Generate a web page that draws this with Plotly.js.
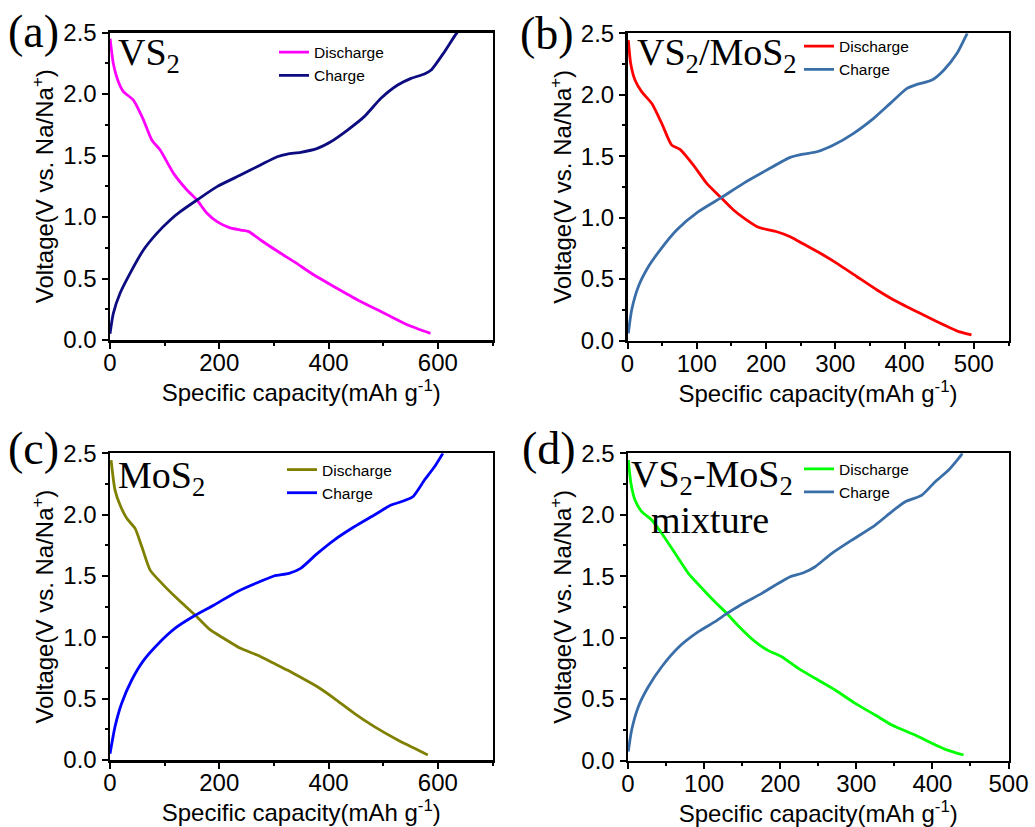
<!DOCTYPE html>
<html>
<head>
<meta charset="utf-8">
<script src="https://cdn.plot.ly/plotly-3.0.1.min.js"></script>
<style>html,body{margin:0;padding:0;background:#fff;}#chart{width:1035px;height:827px;}</style>
</head>
<body>
<div id="chart"></div>
<script>
// ---- Data ----
// (a) VS2
const aDisX = [0.2, 6, 15.3, 24.5, 42.8, 61.2, 76.5, 91.8, 116.3, 140.8, 159.2, 177.5, 195.9, 217.3, 238.8, 254, 275.5, 312.3, 336.8, 373.5, 410.3, 453.2, 502.2, 545, 586.5];
const aDisY = [2.45, 2.25, 2.10, 2.02, 1.95, 1.79, 1.626, 1.545, 1.355, 1.22, 1.138, 1.03, 0.962, 0.916, 0.894, 0.881, 0.813, 0.705, 0.637, 0.528, 0.433, 0.325, 0.217, 0.122, 0.054];
const aChgX = [0, 6.1, 18.4, 36.7, 61.2, 85.7, 110.2, 128.6, 159.2, 195.9, 238.8, 275.5, 306.1, 324.5, 349, 379.6, 404.1, 434.7, 465.3, 495.9, 526.5, 551, 575.5, 587.7, 612.2, 633.6, 636];
const aChgY = [0.05, 0.217, 0.38, 0.542, 0.732, 0.867, 0.976, 1.043, 1.138, 1.247, 1.341, 1.423, 1.49, 1.512, 1.526, 1.558, 1.612, 1.707, 1.816, 1.965, 2.073, 2.127, 2.163, 2.195, 2.344, 2.49, 2.5];
// (b) VS2/MoS2
const bDisX = [1.2, 4.6, 10.8, 20.4, 34.9, 49.4, 63.8, 75.8, 95.1, 114.4, 136, 153, 172.2, 189.1, 215.6, 234.9, 254.2, 278.3, 302.4, 331.3, 360.2, 384.3, 418, 447, 478.3, 496.6];
const bDisY = [2.445, 2.255, 2.12, 2.025, 1.93, 1.767, 1.59, 1.556, 1.428, 1.279, 1.157, 1.062, 0.98, 0.921, 0.885, 0.845, 0.785, 0.71, 0.628, 0.519, 0.411, 0.33, 0.234, 0.153, 0.072, 0.045];
const bChgX = [1.2, 6, 15.6, 30.1, 47, 71, 102.3, 136, 167.4, 201.2, 234.9, 254.2, 273.4, 297.5, 326.4, 355.3, 379.4, 403.5, 417.9, 439.6, 456.5, 475.7, 489.2, 490.5];
const bChgY = [0.058, 0.248, 0.438, 0.6, 0.736, 0.899, 1.048, 1.165, 1.279, 1.387, 1.49, 1.517, 1.536, 1.591, 1.686, 1.808, 1.93, 2.052, 2.084, 2.12, 2.2, 2.337, 2.486, 2.5];
// (c) MoS2
const cDisX = [2, 9.2, 18.4, 30.6, 45.9, 58.2, 73.5, 94.9, 122.4, 156.1, 183.6, 208.1, 238.8, 269.4, 300, 324.5, 348.9, 379.6, 410.2, 447, 483.7, 526.5, 557.1, 581.6];
const cDisY = [2.445, 2.2, 2.078, 1.97, 1.888, 1.738, 1.548, 1.44, 1.318, 1.18, 1.06, 0.992, 0.91, 0.856, 0.788, 0.733, 0.674, 0.597, 0.503, 0.38, 0.272, 0.163, 0.095, 0.041];
const cChgX = [0, 9.2, 21.4, 39.8, 61.2, 88.8, 119.4, 156.1, 189.8, 232.6, 269.4, 300, 327.5, 348.9, 379.6, 410.2, 447, 483.7, 514.3, 532.7, 554.1, 575.5, 593.9, 609.2];
const cChgY = [0.05, 0.272, 0.462, 0.652, 0.81, 0.95, 1.075, 1.18, 1.262, 1.372, 1.445, 1.5, 1.521, 1.562, 1.684, 1.793, 1.901, 1.997, 2.078, 2.105, 2.146, 2.282, 2.39, 2.5];
// (d) VS2-MoS2 mixture
const dDisX = [0.3, 3.9, 9.2, 18, 31.1, 44.3, 61.8, 79.3, 99, 114.4, 129.7, 145.1, 167, 184.5, 202, 223.9, 245.8, 272.2, 298.5, 324.8, 346.7, 377.4, 399.3, 416.8, 440.9];
const dDisY = [2.445, 2.255, 2.12, 2.025, 1.957, 1.849, 1.686, 1.523, 1.39, 1.29, 1.198, 1.095, 0.967, 0.894, 0.845, 0.75, 0.669, 0.574, 0.465, 0.37, 0.289, 0.207, 0.14, 0.091, 0.045];
const dChgX = [0.4, 4.8, 13.6, 26.7, 44.3, 66.2, 92.5, 114.4, 129.7, 149.5, 175.8, 197.8, 213.1, 230.6, 246, 267.9, 294.2, 324.9, 346.7, 364.3, 386.2, 403.7, 421.3, 437.9, 439];
const dChgY = [0.072, 0.248, 0.438, 0.6, 0.763, 0.92, 1.048, 1.13, 1.195, 1.272, 1.36, 1.442, 1.496, 1.528, 1.577, 1.686, 1.794, 1.916, 2.025, 2.106, 2.16, 2.269, 2.364, 2.486, 2.5];

const seriesNames = ['Discharge', 'Charge'];
const panelLetters = ['(a)', '(b)', '(c)', '(d)'];
const panelNames = ['VS<sub>2</sub>', 'VS<sub>2</sub>/MoS<sub>2</sub>', 'MoS<sub>2</sub>', 'VS<sub>2</sub>-MoS<sub>2</sub>'];
const mixtureLabel = 'mixture';
const xTitle = 'Specific capacity(mAh g<sup>-1</sup>)';
const yTitle = 'Voltage(V vs. Na/Na<sup>+</sup>)';
const xRanges = [[0, 700], [0, 550], [0, 700], [0, 500]];
const xDticks = [200, 100, 200, 100];
const colors = [['#ff00ff', '#0c0c80'], ['#ff0000', '#3a6ea8'], ['#808000', '#0000ff'], ['#00ff00', '#3a6ea8']];

// ---- Layout helpers (pixel -> paper) ----
const W = 1035, H = 827;
const px = x => x / W;
const py = y => 1 - y / H;

const boxes = [
  {l: 110, r: 492.5, t: 32.5, b: 340},
  {l: 627.5, r: 1008.5, t: 33.3, b: 340.5},
  {l: 110, r: 492.5, t: 453.3, b: 760},
  {l: 628, r: 1008.5, t: 453.3, b: 760.5}
];
const legendPos = [[274, 35.6], [799, 29.6], [282, 453], [799, 452.2]];
const letterPos = [[6, 4], [518, 6], [6, 421], [520, 421]];
const namePos = [[116, 29], [635, 29], [116, 452], [629, 451]];

const dataSets = [
  [aDisX, aDisY, aChgX, aChgY],
  [bDisX, bDisY, bChgX, bChgY],
  [cDisX, cDisY, cChgX, cChgY],
  [dDisX, dDisY, dChgX, dChgY]
];

const traces = [];
const layout = {
  width: W, height: H,
  margin: {l: 0, r: 0, t: 0, b: 0},
  paper_bgcolor: '#ffffff',
  plot_bgcolor: '#ffffff',
  font: {family: '"Liberation Sans", Arial, sans-serif', color: '#000'},
  annotations: [],
  showlegend: true
};

const fontSans = '"Liberation Sans", Arial, sans-serif';
const fontSerif = '"Liberation Serif", "Times New Roman", serif';

dataSets.forEach((ds, i) => {
  const n = i === 0 ? '' : String(i + 1);
  const legendId = i === 0 ? 'legend' : 'legend' + (i + 1);
  for (let k = 0; k < 2; k++) {
    traces.push({
      x: ds[2 * k], y: ds[2 * k + 1],
      type: 'scatter', mode: 'lines',
      name: seriesNames[k],
      xaxis: 'x' + n, yaxis: 'y' + n,
      legend: legendId,
      line: {color: colors[i][k], width: 2.8, shape: 'spline', smoothing: 0.6}
    });
  }
  const bx = boxes[i];
  const axCommon = {
    showline: true, linecolor: '#000', linewidth: 2.5, mirror: true,
    ticks: 'outside', ticklen: 6, tickwidth: 2, tickcolor: '#000',
    showgrid: false, zeroline: false,
    tickfont: {family: fontSans, size: 24, color: '#000'},
    fixedrange: true
  };
  layout['xaxis' + n] = Object.assign({}, axCommon, {
    domain: [px(bx.l), px(bx.r)],
    anchor: 'y' + n,
    range: xRanges[i], dtick: xDticks[i], tick0: 0,
    ticklabelstandoff: -6,
    minor: {dtick: xDticks[i] / 2, ticklen: 3, tickwidth: 2, tickcolor: '#000', ticks: 'outside'},
    title: {text: xTitle, font: {family: fontSans, size: 24, color: '#000'}, standoff: 0}
  });
  layout['yaxis' + n] = Object.assign({}, axCommon, {
    domain: [py(bx.b), py(bx.t)],
    anchor: 'x' + n,
    range: [0, 2.5], dtick: 0.5, tick0: 0, tickformat: '.1f',
    minor: {dtick: 0.25, ticklen: 3, tickwidth: 2, tickcolor: '#000', ticks: 'outside'},
    title: {text: yTitle, font: {family: fontSans, size: 24, color: '#000'}, standoff: 3}
  });
  layout[legendId] = {
    x: px(legendPos[i][0]), y: py(legendPos[i][1]),
    xanchor: 'left', yanchor: 'top',
    bgcolor: 'rgba(0,0,0,0)', borderwidth: 0,
    font: {family: fontSans, size: 15.5, color: '#000'},
    tracegroupgap: 0
  };
  layout.annotations.push({
    text: panelLetters[i], xref: 'paper', yref: 'paper',
    x: px(letterPos[i][0]), y: py(letterPos[i][1]),
    xanchor: 'left', yanchor: 'top', showarrow: false,
    font: {family: fontSerif, size: 46, color: '#000'}
  });
  layout.annotations.push({
    text: panelNames[i], xref: 'paper', yref: 'paper',
    x: px(namePos[i][0]), y: py(namePos[i][1]),
    xanchor: 'left', yanchor: 'top', showarrow: false,
    font: {family: fontSerif, size: 38, color: '#000'}
  });
});
layout.annotations.push({
  text: mixtureLabel, xref: 'paper', yref: 'paper',
  x: px(710), y: py(497),
  xanchor: 'center', yanchor: 'top', showarrow: false,
  font: {family: fontSerif, size: 38, color: '#000'}
});

Plotly.newPlot('chart', traces, layout, {displayModeBar: false, staticPlot: true});
</script>
</body>
</html>
